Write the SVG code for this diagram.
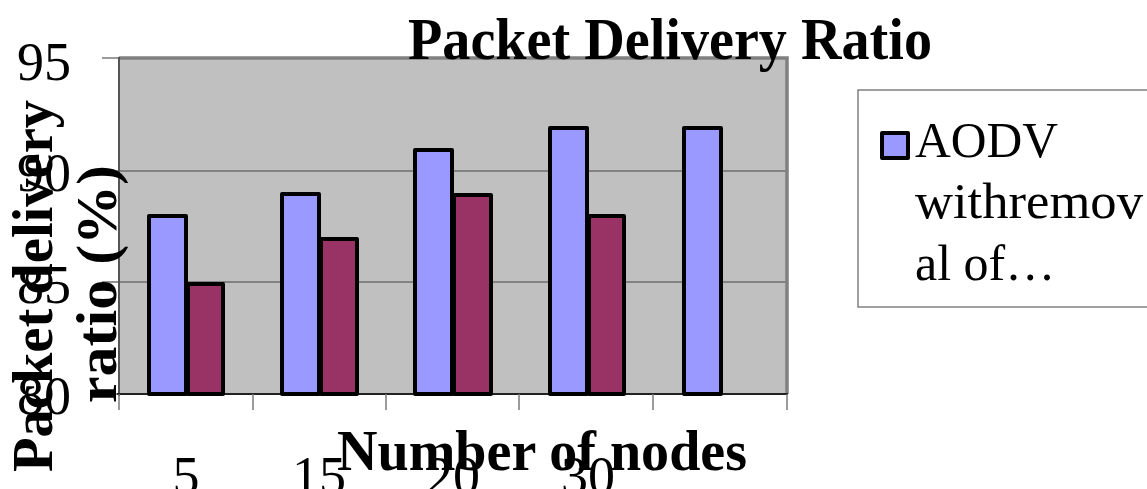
<svg xmlns="http://www.w3.org/2000/svg" width="1147" height="489" viewBox="0 0 1147 489">
<style>
.bar{stroke:#000;stroke-width:4;stroke-linejoin:round}
.s1{fill:#9999FF}
.s2{fill:#993366}
.grid{stroke:#6e6e6e;stroke-width:1.5}
.tick{stroke:#7a7a7a;stroke-width:1.5}
.ax{font-family:"Liberation Serif","Times New Roman",serif;font-size:54px;fill:#000}
.ttl{font-family:"Liberation Serif","Times New Roman",serif;font-weight:bold;fill:#000}
.leg{font-family:"Liberation Serif","Times New Roman",serif;font-size:50px;fill:#000}
</style>
<rect width="1147" height="489" fill="#fff"/>
<g id="plot-area">
<rect x="119" y="58" width="668" height="336" fill="#C0C0C0"/>
<line class="grid" x1="102" y1="171" x2="787" y2="171"/>
<line class="grid" x1="102" y1="282" x2="787" y2="282"/>
<line class="tick" x1="102" y1="58" x2="119" y2="58"/>
<line class="tick" x1="102" y1="394" x2="119" y2="394"/>
<path d="M119 58 H787 V394" fill="none" stroke="#808080" stroke-width="3.5"/>
<line x1="119" y1="57" x2="119" y2="396" stroke="#555" stroke-width="2"/>
<line x1="117" y1="394" x2="788" y2="394" stroke="#222" stroke-width="2"/>
<g class="tick">
<line x1="119" y1="394" x2="119" y2="410"/>
<line x1="253" y1="394" x2="253" y2="410"/>
<line x1="386" y1="394" x2="386" y2="410"/>
<line x1="519" y1="394" x2="519" y2="410"/>
<line x1="653" y1="394" x2="653" y2="410"/>
<line x1="787" y1="394" x2="787" y2="410"/>
</g>
</g>
<g id="series-1">
<rect class="bar s1" x="149" y="216" width="37" height="178"/>
<rect class="bar s1" x="282" y="194" width="37" height="200"/>
<rect class="bar s1" x="415" y="150" width="37" height="244"/>
<rect class="bar s1" x="550" y="128" width="37" height="266"/>
<rect class="bar s1" x="684" y="128" width="37" height="266"/>
</g>
<g id="series-2">
<rect class="bar s2" x="188" y="284" width="35" height="110"/>
<rect class="bar s2" x="321" y="239" width="36" height="155"/>
<rect class="bar s2" x="454" y="195" width="37" height="199"/>
<rect class="bar s2" x="589" y="216" width="35" height="178"/>
</g>
<g id="y-labels" class="ax" text-anchor="end">
<text x="71" y="80">95</text>
<text x="71" y="191">90</text>
<text x="71" y="303">85</text>
<text x="71" y="414">80</text>
</g>
<g id="x-labels" class="ax" text-anchor="middle">
<text x="186" y="494">5</text>
<text x="319" y="494">15</text>
<text x="453" y="494">20</text>
<text x="588" y="494">30</text>
</g>
<g id="title">
<text class="ttl" x="670" y="59" font-size="60" text-anchor="middle" textLength="524" lengthAdjust="spacingAndGlyphs">Packet Delivery Ratio</text>
</g>
<g id="x-title">
<text class="ttl" x="542" y="470" font-size="57" text-anchor="middle" textLength="410" lengthAdjust="spacingAndGlyphs">Number of nodes</text>
</g>
<g id="y-title">
<text class="ttl" font-size="56" text-anchor="middle" textLength="372" lengthAdjust="spacingAndGlyphs" transform="translate(52,286) rotate(-90)">Packet delivery</text>
<text class="ttl" font-size="56" text-anchor="middle" textLength="238" lengthAdjust="spacingAndGlyphs" transform="translate(116,284) rotate(-90)">ratio (%)</text>
</g>
<g id="legend">
<rect x="858" y="90" width="300" height="217" fill="#fff" stroke="#808080" stroke-width="1.5"/>
<rect x="882" y="133" width="26" height="25" fill="#9999FF" stroke="#000" stroke-width="4" stroke-linejoin="round"/>
<text class="leg" x="915" y="157" textLength="143" lengthAdjust="spacingAndGlyphs">AODV</text>
<text class="leg" x="915" y="218" textLength="228" lengthAdjust="spacingAndGlyphs">withremov</text>
<text class="leg" x="915" y="280">al of…</text>
</g>
</svg>
